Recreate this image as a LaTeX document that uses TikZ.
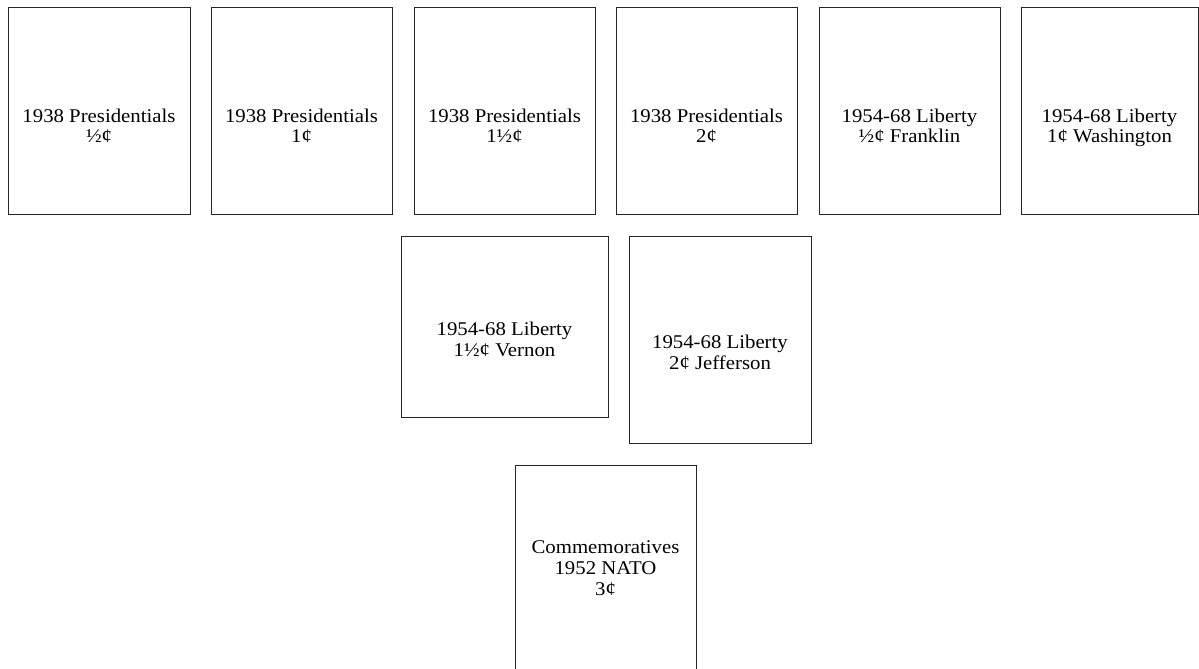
\documentclass[tikz,border=0pt]{standalone}
\usepackage{fontspec}
\setmainfont{Liberation Serif}[FakeStretch=1.07]
\begin{document}
\begin{tikzpicture}[x=1bp,y=-1bp,
  stamp/.style={draw=black!85,line width=0.8bp,inner sep=0pt,rectangle},
  lbl/.style={align=center,inner sep=0pt,text height=13.5bp,text depth=4.5bp,font=\fontsize{19.5}{21}\selectfont}]
\useasboundingbox (0,0) rectangle (1199,669);
\path[fill=white] (0,0) rectangle (1199,669);
% row 1
\node[stamp,minimum width=182bp,minimum height=207bp] (b1) at (99,110.5) {};
\node[stamp,minimum width=181bp,minimum height=207bp] (b2) at (301.5,110.5) {};
\node[stamp,minimum width=181bp,minimum height=207bp] (b3) at (504.5,110.5) {};
\node[stamp,minimum width=181bp,minimum height=207bp] (b4) at (706.5,110.5) {};
\node[stamp,minimum width=181bp,minimum height=207bp] (b5) at (909.5,110.5) {};
\node[stamp,minimum width=177bp,minimum height=207bp] (b6) at (1109.5,110.5) {};
\node[lbl] (t1) at (99,138.5) {1938 Presidentials\\½¢};
\node[lbl] (t2) at (301.5,138.5) {1938 Presidentials\\1¢};
\node[lbl] (t3) at (504.5,138.5) {1938 Presidentials\\1½¢};
\node[lbl] (t4) at (706.5,138.5) {1938 Presidentials\\2¢};
\node[lbl] (t5) at (909.5,138.5) {1954-68 Liberty\\½¢ Franklin};
\node[lbl] (t6) at (1109.5,138.5) {1954-68 Liberty\\1¢ Washington};
% row 2
\node[stamp,minimum width=207bp,minimum height=181bp] (b7) at (504.5,326.5) {};
\node[stamp,minimum width=182bp,minimum height=207bp] (b8) at (720,339.5) {};
\node[lbl] (t7) at (504.5,352) {1954-68 Liberty\\1½¢ Vernon};
\node[lbl] (t8) at (720,365) {1954-68 Liberty\\2¢ Jefferson};
% row 3
\node[stamp,minimum width=181bp,minimum height=215bp] (b9) at (605.5,572.5) {};
\node[lbl] (t9) at (605.5,591) {Commemoratives\\1952 NATO\\3¢};
\end{tikzpicture}
\end{document}
